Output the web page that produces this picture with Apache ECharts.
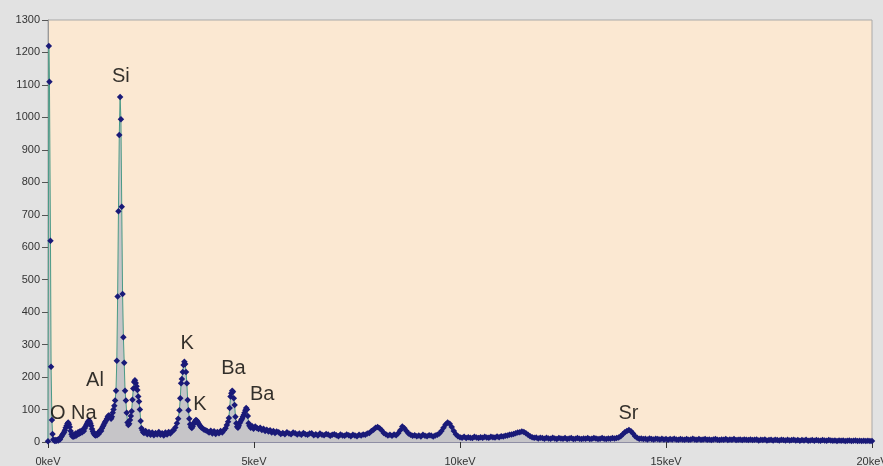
<!DOCTYPE html>
<html>
<head>
<meta charset="utf-8">
<script src="https://cdn.jsdelivr.net/npm/echarts@6/dist/echarts.min.js"></script>
<style>
html,body{margin:0;padding:0;background:#e2e2e2;}
#chart{width:883px;height:466px;}
</style>
</head>
<body>
<div id="chart"></div>
<script>
// [energy keV, counts]
var lowRegion = [
[0.00,2],[0.02,1220],[0.035,1110],[0.06,620],[0.075,232],[0.095,68],[0.11,25],[0.13,8],
[0.15,5],[0.17,3],[0.19,6],[0.21,4],[0.23,7],[0.25,5],[0.27,9],[0.29,8],[0.31,14],[0.33,18],
[0.35,22],[0.37,26],[0.39,30],[0.41,36],[0.43,44],[0.45,50],[0.47,56],[0.49,60],[0.51,55],
[0.53,46],[0.55,34],[0.57,24],[0.59,18],[0.61,16],[0.63,22],[0.65,18],[0.67,26],[0.69,20],
[0.71,24],[0.73,30],[0.75,25],[0.77,32],[0.79,28],[0.81,35],[0.83,30],[0.85,38],[0.87,34],
[0.89,42],[0.91,48],[0.93,52],[0.95,58],[0.97,62],[0.99,66],[1.01,64],[1.03,58],[1.05,50],
[1.07,40],[1.09,32],[1.11,26],[1.13,22],[1.15,20],[1.17,24],[1.19,21],[1.21,28],[1.23,25],
[1.25,32],[1.27,36],[1.29,34],[1.31,42],[1.33,48],[1.35,52],[1.37,58],[1.39,62],[1.41,66],
[1.43,72],[1.45,78],[1.47,82],[1.49,80],[1.51,76],[1.53,72],[1.55,78],[1.57,90],[1.59,100]
];
var siRegion = [
[1.61,112],[1.63,128],[1.65,158],[1.67,250],[1.69,448],[1.71,711],[1.73,946],[1.75,1063],
[1.77,994],[1.79,725],[1.81,456],[1.83,323],[1.85,244],[1.87,158],[1.89,128],[1.91,90],
[1.93,60],[1.95,52],[1.97,56],[1.99,68],[2.01,80],[2.03,95],[2.05,130],[2.07,165],[2.09,185],
[2.11,190],[2.13,182],[2.15,172],[2.17,160],[2.19,140],[2.21,125],[2.23,100],[2.25,65],
[2.27,42],[2.29,36],[2.31,30]
];
var midRegion = [
[2.33,28],[2.37,34],[2.41,24],[2.45,31],[2.49,22],[2.53,29],[2.57,21],[2.61,28],[2.65,23],
[2.69,31],[2.73,22],[2.77,27],[2.81,20],[2.85,29],[2.89,23],[2.93,31],[2.97,26],[3.01,33],
[3.05,36],[3.09,45],[3.13,58],[3.16,72],[3.19,98],[3.21,135],[3.23,181],[3.25,194],[3.27,216],
[3.29,237],[3.31,247],[3.33,240],[3.35,216],[3.37,181],[3.39,129],[3.41,98],[3.43,72],[3.45,55],
[3.47,46],[3.49,43],[3.51,48],[3.53,55],[3.55,60],[3.57,64],[3.59,68],[3.61,66],[3.63,62],
[3.65,58],[3.67,54],[3.69,50],[3.72,45],[3.75,42],[3.79,38],[3.83,36],[3.87,33],[3.91,29],
[3.95,35],[3.99,26],[4.03,33],[4.07,25],[4.11,31],[4.15,27],[4.19,34],[4.23,29],[4.27,36],
[4.31,42],[4.34,52],[4.37,62],[4.39,74],[4.41,105],[4.43,140],[4.45,150],[4.47,158],[4.49,155],
[4.51,135],[4.53,114],[4.55,78],[4.57,58],[4.59,47],[4.61,44],[4.63,50],[4.65,58],[4.67,62],
[4.69,68],[4.71,72],[4.73,78],[4.75,83],[4.77,90],[4.79,98],[4.81,105],[4.83,100],[4.85,80],
[4.87,58],[4.89,50],[4.92,44],[4.95,49],[4.99,41],[5.03,48],[5.07,43],[5.11,40],[5.15,44],
[5.19,37],[5.23,41],[5.27,34],[5.31,38],[5.35,32],[5.39,36],[5.43,29],[5.47,34],[5.51,28],[5.55,32]
];
var highRegion = [
[5.6,30],[5.65,25],[5.7,28],[5.75,24],[5.8,30],[5.85,26],[5.9,24],[5.95,29],[6.0,27],[6.05,23],
[6.1,26],[6.15,22],[6.2,28],[6.25,24],[6.3,22],[6.35,26],[6.4,27],[6.45,21],[6.5,24],[6.55,20],
[6.6,26],[6.65,22],[6.7,21],[6.75,25],[6.8,23],[6.85,19],[6.9,22],[6.95,24],[7.0,21],[7.05,18],
[7.1,23],[7.15,20],[7.2,19],[7.25,23],[7.3,21],[7.35,18],[7.4,22],[7.45,20],[7.5,18],[7.55,22],
[7.6,20],[7.65,23],[7.7,22],[7.75,26],[7.8,28],[7.85,34],[7.9,38],[7.95,44],[8.0,46],[8.05,42],
[8.1,36],[8.15,28],[8.2,24],[8.25,20],[8.3,22],[8.35,19],[8.4,23],[8.45,21],[8.5,27],[8.55,36],
[8.6,48],[8.65,42],[8.7,34],[8.75,26],[8.8,22],[8.85,19],[8.9,21],[8.95,18],[9.0,20],[9.05,17],
[9.1,22],[9.15,19],[9.2,18],[9.25,21],[9.3,20],[9.35,17],[9.4,20],[9.45,22],[9.5,26],[9.55,34],
[9.6,44],[9.65,54],[9.7,60],[9.75,56],[9.8,46],[9.85,34],[9.9,24],[9.95,18],[10.0,15],[10.05,13],
[10.1,16],[10.15,12],[10.2,15],[10.25,13],[10.3,12],[10.35,16],[10.4,14],[10.45,12],[10.5,15],[10.55,13],
[10.6,16],[10.65,14],[10.7,13],[10.75,16],[10.8,15],[10.85,14],[10.9,17],[10.95,15],[11.0,18],[11.05,17],
[11.1,19],[11.15,20],[11.2,22],[11.25,23],[11.3,25],[11.35,27],[11.4,29],[11.45,30],[11.5,32],[11.55,31],
[11.6,27],[11.65,22],[11.7,18],[11.75,15],[11.8,13],[11.85,14],[11.9,11],[11.95,13],[12.0,12],[12.05,10],
[12.1,13],[12.15,11],[12.2,10],[12.25,13],[12.3,11],[12.35,9],[12.4,12],[12.45,11],[12.5,10],[12.55,12],
[12.6,9],[12.65,11],[12.7,12],[12.75,9],[12.8,10],[12.85,12],[12.9,10],[12.95,9],[13.0,11],[13.05,10],
[13.1,12],[13.15,9],[13.2,10],[13.25,12],[13.3,11],[13.35,9],[13.4,10],[13.45,12],[13.5,10],[13.55,9],
[13.6,11],[13.65,10],[13.7,12],[13.75,11],[13.8,12],[13.85,14],[13.9,18],[13.95,24],[14.0,30],[14.05,34],
[14.1,37],[14.15,33],[14.2,26],[14.25,18],[14.3,13],[14.35,10],[14.4,11],[14.45,9],[14.5,10],[14.55,8],
[14.6,11],[14.65,9],[14.7,8],[14.75,10],[14.8,9],[14.85,8],[14.9,10],[14.95,8],[15.0,9],[15.05,7],
[15.1,9],[15.15,8],[15.2,10],[15.25,8],[15.3,7],[15.35,9],[15.4,8],[15.45,7],[15.5,9],[15.55,7],
[15.6,8],[15.65,10],[15.7,8],[15.75,7],[15.8,9],[15.85,7],[15.9,8],[15.95,9],[16.0,7],[16.05,8],
[16.1,6],[16.15,8],[16.2,9],[16.25,7],[16.3,6],[16.35,8],[16.4,7],[16.45,9],[16.5,6],[16.55,8],
[16.6,7],[16.65,9],[16.7,6],[16.75,7],[16.8,8],[16.85,6],[16.9,8],[16.95,7],[17.0,6],[17.05,8],
[17.1,6],[17.15,7],[17.2,8],[17.25,5],[17.3,7],[17.35,6],[17.4,8],[17.45,5],[17.5,6],[17.55,7],
[17.6,5],[17.65,7],[17.7,6],[17.75,5],[17.8,7],[17.85,6],[17.9,5],[17.95,7],[18.0,5],[18.05,6],
[18.1,7],[18.15,5],[18.2,6],[18.25,4],[18.3,6],[18.35,5],[18.4,7],[18.45,4],[18.5,5],[18.55,6],
[18.6,4],[18.65,6],[18.7,5],[18.75,4],[18.8,6],[18.85,5],[18.9,4],[18.95,6],[19.0,5],[19.05,4],
[19.1,5],[19.15,3],[19.2,5],[19.25,4],[19.3,5],[19.35,3],[19.4,4],[19.45,5],[19.5,3],[19.55,4],
[19.6,5],[19.65,3],[19.7,4],[19.75,3],[19.8,4],[19.85,3],[19.9,4],[19.95,3],[20.0,3]
];
// element labels: [energy, counts, text]
var elementLabels = [
[1.77,1127,'Si'],[1.14,188,'Al'],[0.24,89,'O'],[0.87,89,'Na'],[3.38,302,'K'],
[3.69,117,'K'],[4.50,228,'Ba'],[5.20,145,'Ba'],[14.09,89,'Sr']
];
var xTicks = [0,5,10,15,20];
var yMax = 1300, yStep = 100;

var spectrum = lowRegion.concat(siRegion, midRegion, highRegion);
var chart = echarts.init(document.getElementById('chart'), null, {renderer:'canvas'});
chart.setOption({
  animation:false,
  backgroundColor:'#e2e2e2',
  grid:{left:48,right:11,top:20,bottom:24,containLabel:false,outerBoundsMode:'none',show:true,backgroundColor:'#fbe8d2',borderColor:'#a9a9a9',borderWidth:1},
  xAxis:{type:'value',min:xTicks[0],max:xTicks[xTicks.length-1],interval:5,
    axisLine:{show:true,onZero:false,lineStyle:{color:'#8e8ea4',width:1}},
    axisTick:{show:true,length:6,lineStyle:{color:'#333'}},
    axisLabel:{margin:14,color:'#333',fontSize:11,fontFamily:'Liberation Sans, Arial, sans-serif',formatter:'{value}keV',
      hideOverlap:false,alignMinLabel:'center',alignMaxLabel:'center'},
    splitLine:{show:false}},
  yAxis:{type:'value',min:0,max:yMax,interval:yStep,
    axisLine:{show:true,lineStyle:{color:'#999'}},
    axisTick:{show:true,length:6,lineStyle:{color:'#555'}},
    axisLabel:{margin:8,color:'#333',fontSize:11,fontFamily:'Liberation Sans, Arial, sans-serif',
      formatter:function(v){return String(v);}},
    splitLine:{show:false}},
  series:[
    {type:'line',data:spectrum,showAllSymbol:true,symbol:'diamond',symbolSize:6.5,
     itemStyle:{color:'#1a1a78'},lineStyle:{color:'#4a9a86',width:1},
     areaStyle:{color:'#c6c5c8',opacity:1},z:2},
    {type:'scatter',data:elementLabels,symbolSize:1,itemStyle:{color:'rgba(0,0,0,0)'},z:5,
     label:{show:true,position:'inside',color:'#000',fontSize:20,fontFamily:'Liberation Sans, Arial, sans-serif',
       formatter:function(p){return p.data[2];}}}
  ]
});
</script>
</body>
</html>
